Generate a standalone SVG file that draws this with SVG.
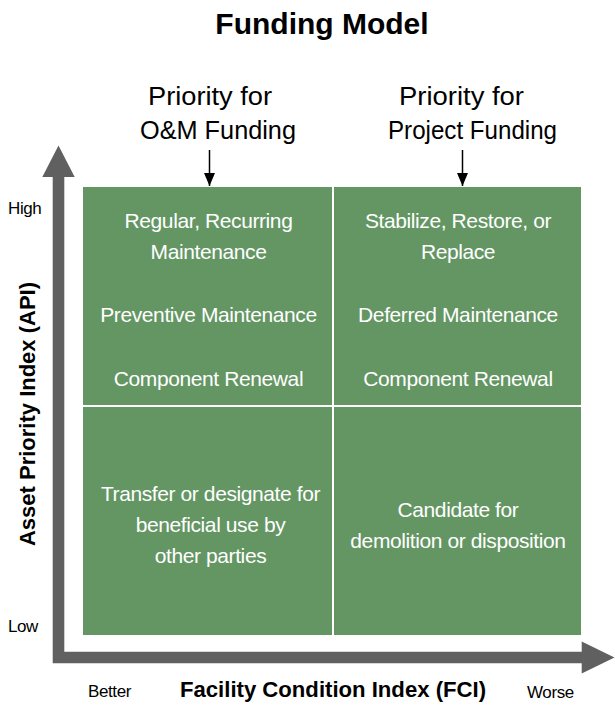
<svg xmlns="http://www.w3.org/2000/svg" width="615" height="707" viewBox="0 0 615 707">
<style>
.title{font-family:"Liberation Sans",Arial,sans-serif;font-weight:bold;font-size:30px;fill:#000;text-anchor:middle}
.head{font-family:"Liberation Sans",Arial,sans-serif;font-size:26px;fill:#000;text-anchor:middle}
.cell{font-family:"Liberation Sans",Arial,sans-serif;font-size:21px;fill:#fff;text-anchor:middle;letter-spacing:-0.4px}
.axis{font-family:"Liberation Sans",Arial,sans-serif;font-weight:bold;font-size:22px;fill:#000;text-anchor:middle}
.tick{font-family:"Liberation Sans",Arial,sans-serif;font-size:17px;fill:#000;letter-spacing:-0.4px}
.quad{fill:#649664}
.div{stroke:#fff;stroke-width:2}
</style>
<defs>
<marker id="ah" viewBox="0 0 13 11" refX="13" refY="5.5" markerWidth="13" markerHeight="11" markerUnits="userSpaceOnUse" orient="auto">
<path d="M0,0 L13,5.5 L0,11 Z" fill="#000"/>
</marker>
</defs>
<rect width="615" height="707" fill="#fff"/>
<text class="title" x="322" y="34">Funding Model</text>
<g id="axes">
<path d="M52.7,663.3 L52.7,177 L42.3,177 L58.5,145.5 L74.7,177 L64.3,177 L64.3,651.7 L581.7,651.7 L581.7,641.5 L614.5,657.5 L581.7,673.5 L581.7,663.3 Z" fill="#606060"/>
<text class="axis" transform="translate(35,414) rotate(-90)" x="0" y="0">Asset Priority Index (API)</text>
<text class="axis" x="333" y="697" textLength="306" lengthAdjust="spacingAndGlyphs">Facility Condition Index (FCI)</text>
<text class="tick" x="8" y="214">High</text>
<text class="tick" x="8" y="632">Low</text>
<text class="tick" x="88" y="697">Better</text>
<text class="tick" x="527" y="698">Worse</text>
</g>
<g id="head-om">
<text class="head" x="210" y="105" textLength="124" lengthAdjust="spacingAndGlyphs">Priority for</text>
<text class="head" x="218" y="139" textLength="156" lengthAdjust="spacingAndGlyphs">O&amp;M Funding</text>
</g>
<g id="head-project">
<text class="head" x="461.5" y="105" textLength="125" lengthAdjust="spacingAndGlyphs">Priority for</text>
<text class="head" x="472.5" y="139" textLength="169" lengthAdjust="spacingAndGlyphs">Project Funding</text>
</g>
<g id="grid">
<rect class="quad" x="83" y="187" width="498" height="448"/>
<line class="div" x1="333" y1="187" x2="333" y2="635"/>
<line class="div" x1="83" y1="406" x2="581" y2="406"/>
</g>
<g id="q-top-left">
<text class="cell" x="208.5" y="228">Regular, Recurring</text>
<text class="cell" x="208.5" y="259">Maintenance</text>
<text class="cell" x="208.5" y="322">Preventive Maintenance</text>
<text class="cell" x="208.5" y="386">Component Renewal</text>
</g>
<g id="q-top-right">
<text class="cell" x="458" y="228">Stabilize, Restore, or</text>
<text class="cell" x="458" y="259">Replace</text>
<text class="cell" x="458" y="322">Deferred Maintenance</text>
<text class="cell" x="458" y="386">Component Renewal</text>
</g>
<g id="q-bottom-left">
<text class="cell" x="210.5" y="501">Transfer or designate for</text>
<text class="cell" x="210.5" y="532">beneficial use by</text>
<text class="cell" x="210.5" y="563">other parties</text>
</g>
<g id="q-bottom-right">
<text class="cell" x="458" y="517">Candidate for</text>
<text class="cell" x="458" y="548">demolition or disposition</text>
</g>
<g id="connectors" stroke="#000" stroke-width="1.5">
<line x1="209.5" y1="150" x2="209.5" y2="186" marker-end="url(#ah)"/>
<line x1="462.5" y1="150" x2="462.5" y2="186" marker-end="url(#ah)"/>
</g>
</svg>
